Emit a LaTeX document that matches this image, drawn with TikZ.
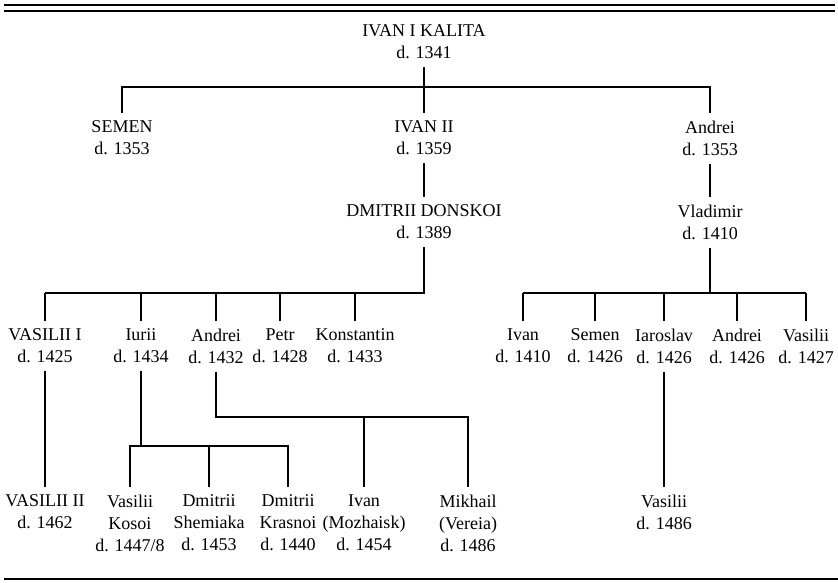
\documentclass[tikz,border=0pt]{standalone}
\usepackage{fontspec}
\setmainfont{Liberation Serif}

\begin{document}
\begin{tikzpicture}[x=1pt,y=-1pt,
	person/.style={align=center, inner sep=0pt, outer ysep=8pt, anchor=north,
		font=\fontsize{18}{22}\selectfont},
	link/.style={line width=1.1pt},
	rule/.style={line width=2.2pt}]
	\useasboundingbox (0,0) rectangle (838,583);

	% double rule on top, single rule below
	\draw[rule] (4,5) -- (835,5);
	\draw[rule] (4,11) -- (835,11);
	\draw[rule] (4,579) -- (838,579);

	% Ivan I and his sons
	\node[person] (kalita) at (424,17) {IVAN I KALITA\\d. 1341};
	\node[person] (semen) at (122,113) {SEMEN\\d. 1353};
	\node[person] (ivanII) at (424,113) {IVAN II\\d. 1359};
	\node[person] (andreiK) at (710,113) {Andrei\\d. 1353};
	\coordinate (kbar) at (0,87);
	\draw[link] (kalita) -- (kalita |- kbar);
	\draw[link] (semen) |- (andreiK |- kbar) -- (andreiK);
	\draw[link] (ivanII) -- (ivanII |- kbar);

	% grandsons
	\node[person] (dmitrii) at (424,197) {DMITRII DONSKOI\\d. 1389};
	\node[person] (vladimir) at (710,197) {Vladimir\\d. 1410};
	\draw[link] (ivanII) -- (dmitrii);
	\draw[link] (andreiK) -- (vladimir);

	% sons of Dmitrii
	\coordinate (dbar) at (0,293);
	\foreach \nm/\x/\who/\yr in {vasiliiI/45/VASILII I/1425, iurii/141/Iurii/1434,
		andreiD/216/Andrei/1432, petr/280/Petr/1428, konst/355/Konstantin/1433} {
		\node[person] (\nm) at (\x,321) {\who\\d. \yr};
		\draw[link] (\nm) -- (\nm |- dbar);
	}
	\draw[link] (dmitrii) |- (vasiliiI |- dbar);

	% sons of Vladimir
	\coordinate (vbar) at (0,293);
	\foreach \nm/\x/\who/\yr in {ivanV/523/Ivan/1410, semenV/595/Semen/1426,
		iaroslav/664/Iaroslav/1426, andreiV/737/Andrei/1426, vasiliiV/806/Vasilii/1427} {
		\node[person] (\nm) at (\x,321) {\who\\d. \yr};
		\draw[link] (\nm) -- (\nm |- vbar);
	}
	\draw[link] (vladimir) -- (vladimir |- vbar);
	\draw[link] (ivanV |- vbar) -- (vasiliiV |- vbar);

	% last generation
	\node[person] (vasiliiII) at (45,487) {VASILII II\\d. 1462};
	\draw[link] (vasiliiI) -- (vasiliiII);

	\node[person] (kosoi) at (130,487) {Vasilii\\Kosoi\\d. 1447/8};
	\node[person] (shemiaka) at (209,487) {Dmitrii\\Shemiaka\\d. 1453};
	\node[person] (krasnoi) at (288,487) {Dmitrii\\Krasnoi\\d. 1440};
	\coordinate (ibar) at (0,446);
	\draw[link] (iurii) -- (iurii |- ibar);
	\draw[link] (kosoi) |- (krasnoi |- ibar) -- (krasnoi);
	\draw[link] (shemiaka) -- (shemiaka |- ibar);

	\node[person] (ivanM) at (364,487) {Ivan\\(Mozhaisk)\\d. 1454};
	\node[person] (mikhail) at (468,487) {Mikhail\\(Vereia)\\d. 1486};
	\coordinate (abar) at (0,417);
	\draw[link] (andreiD) |- (mikhail |- abar) -- (mikhail);
	\draw[link] (ivanM) -- (ivanM |- abar);

	\node[person] (vasiliiIa) at (664,487) {Vasilii\\d. 1486};
	\draw[link] (iaroslav) -- (vasiliiIa);
\end{tikzpicture}
\end{document}
